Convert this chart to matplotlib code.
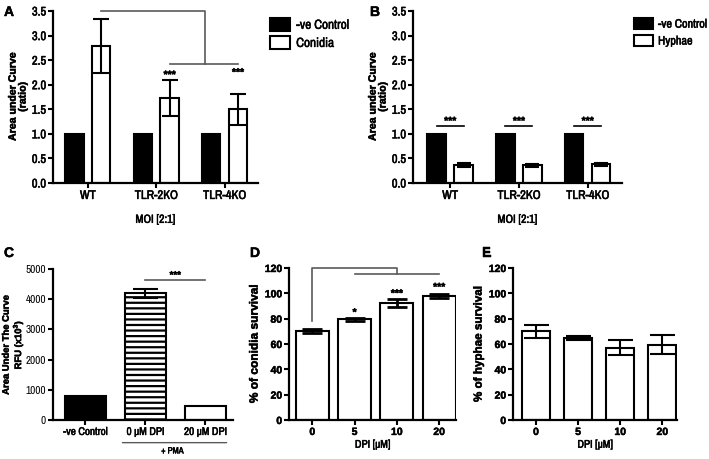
import matplotlib
matplotlib.use("Agg")
import matplotlib.pyplot as plt
import matplotlib.patheffects as pe
import matplotlib.text as mtext
import numpy as np

NARROW = ['Liberation Sans Narrow', 'Archivo Narrow', 'Liberation Sans', 'DejaVu Sans']
WIDE = ['Liberation Sans', 'DejaVu Sans']
plt.rcParams['font.family'] = NARROW
plt.rcParams['mathtext.fontset'] = 'custom'
plt.rcParams['mathtext.rm'] = 'Liberation Sans'
plt.rcParams['mathtext.bf'] = 'Liberation Sans:bold'
plt.rcParams['hatch.linewidth'] = 1.6

# ---- data ----
groups_ab = ["WT", "TLR-2KO", "TLR-4KO"]
a_control = [1.0, 1.0, 1.0]
a_conidia = [2.78, 1.73, 1.50]
a_conidia_err = [0.55, 0.36, 0.32]
b_control = [1.0, 1.0, 1.0]
b_hyphae = [0.36, 0.36, 0.38]
b_hyphae_err = [0.04, 0.03, 0.03]

c_labels = ["-ve Control", "0 μM DPI", "20 μM DPI"]
c_values = [780, 4200, 480]
c_err = [30, 150, 0]

dpi_labels = ["0", "5", "10", "20"]
d_values = [70.0, 79.5, 92.5, 98.0]
d_err = [1.5, 1.0, 3.0, 1.5]
e_values = [70.0, 64.5, 57.0, 59.5]
e_err = [5.0, 1.5, 6.0, 7.5]

fig = plt.figure(figsize=(7.09, 4.59), dpi=100)
W, H = 709, 459


def add_ax(l, r, t, b):
    return fig.add_axes([l / W, 1 - b / H, (r - l) / W, (b - t) / H])


def style(ax, bold_ticks=False, fs=8.5):
    for s in ["top", "right"]:
        ax.spines[s].set_visible(False)
    for s in ["left", "bottom"]:
        ax.spines[s].set_linewidth(1.6)
    ax.tick_params(width=1.5, length=3.5, labelsize=fs, pad=1.5, colors='black')
    if bold_ticks:
        for lab in ax.get_xticklabels() + ax.get_yticklabels():
            lab.set_family(WIDE)
            lab.set_fontweight('bold')


GRAY = '#5a5a5a'
ekw = dict(ecolor='black', elinewidth=1.5, capthick=1.5)


def legkw(fs):
    return dict(loc='upper left', bbox_to_anchor=(1.035, 0.99), frameon=False, fontsize=fs,
                handlelength=1.5, handleheight=1.1, handletextpad=0.45, labelspacing=0.4, borderaxespad=0)


star = dict(ha='center', va='bottom', fontsize=7.5, fontweight='bold', family=WIDE)


def ylab(ax, text, fs, **kw):
    ax.set_ylabel(text, linespacing=1.0, **kw)
    ax.yaxis.label.set_family(WIDE)
    ax.yaxis.label.set_fontweight('bold')
    ax.yaxis.label.set_fontsize(fs)


# ---- Panel A ----
axA = add_ax(53, 258, 11, 183)
x = np.arange(len(groups_ab))
off, w = 0.196, 0.27
axA.bar(x - off, a_control, w, color='black', edgecolor='black', lw=1.5, label='-ve Control')
axA.bar(x + off, a_conidia, w, color='white', edgecolor='black', lw=1.5, label='Conidia',
        yerr=a_conidia_err, capsize=6, error_kw=ekw)
axA.set_xlim(-0.51, 2.49)
axA.set_ylim(0, 3.5)
axA.set_yticks(np.arange(0, 3.51, 0.5))
axA.set_yticklabels([f"{v:.1f}" for v in np.arange(0, 3.51, 0.5)])
axA.set_xticks(x)
axA.set_xticklabels(groups_ab)
style(axA, fs=9)
ylab(axA, "Area under Curve\n(ratio)", 7.6, labelpad=3)
axA.set_xlabel("MOI [2:1]", fontsize=8.5, labelpad=10)
axA.plot([off, 1.72, 1.72], [3.49, 3.49, 2.42], color=GRAY, lw=1.2, clip_on=False)
axA.plot([1 + off, 2 + off], [2.42, 2.42], color=GRAY, lw=1.2, clip_on=False)
axA.text(1 + off, 2.10, "***", **star)
axA.text(2 + off, 2.15, "***", **star)
axA.legend(**legkw(9.5))

# ---- Panel B ----
axB = add_ax(413, 622, 11, 183)
axB.bar(x - off, b_control, w, color='black', edgecolor='black', lw=1.5, label='-ve Control')
axB.bar(x + off, b_hyphae, w, color='white', edgecolor='black', lw=1.5, label='Hyphae',
        yerr=b_hyphae_err, capsize=5, error_kw=ekw)
axB.set_xlim(-0.54, 2.50)
axB.set_ylim(0, 3.5)
axB.set_yticks(np.arange(0, 3.51, 0.5))
axB.set_yticklabels([f"{v:.1f}" for v in np.arange(0, 3.51, 0.5)])
axB.set_xticks(x)
axB.set_xticklabels(groups_ab)
style(axB, fs=9)
ylab(axB, "Area under Curve\n(ratio)", 7.6, labelpad=3)
axB.set_xlabel("MOI [2:1]", fontsize=8.5, labelpad=10)
for gi in x:
    axB.plot([gi - off, gi + off], [1.155, 1.155], color='black', lw=1.2)
    axB.text(gi, 1.16, "***", **star)
axB.legend(**legkw(8.8))

# ---- Panel C ----
axC = add_ax(53, 233, 269, 420)
xc = np.arange(len(c_labels))
wc = 0.69
axC.bar(xc[0], c_values[0], wc, color='black', edgecolor='black', lw=1.5,
        yerr=c_err[0], capsize=0, error_kw=ekw)
axC.bar(xc[1], c_values[1], wc, color='white', edgecolor='black', lw=1.5, hatch='---',
        yerr=c_err[1], capsize=9, error_kw=ekw)
axC.bar(xc[2], c_values[2], wc, color='white', edgecolor='black', lw=1.5)
axC.set_xlim(-0.54, 2.46)
axC.set_ylim(0, 5000)
axC.set_yticks(np.arange(0, 5001, 1000))
axC.set_xticks(xc)
axC.set_xticklabels(c_labels)
style(axC, fs=8)
ylab(axC, "Area Under The Curve\nRFU (x10$^\\mathbf{3}$)", 6.8)
axC.yaxis.set_label_coords(-0.15, 0.5)
axC.plot([1, 2], [4624, 4624], color=GRAY, lw=1.2, clip_on=False)
axC.text(1.5, 4640, "***", **{**star, 'fontsize': 7})
axC.annotate("", xy=(0.57, -0.15), xytext=(2.4, -0.15), xycoords=('data', 'axes fraction'),
             arrowprops=dict(arrowstyle='-', color=GRAY, lw=1.0))
axC.text(1.45, -0.175, "+ PMA", transform=axC.get_xaxis_transform(), ha='center', va='top', fontsize=6.5)

# ---- Panel D ----
axD = add_ax(289, 456, 268, 420)
xd = np.arange(len(dpi_labels))
axD.bar(xd, d_values, 0.78, color='white', edgecolor='black', lw=1.5,
        yerr=d_err, capsize=7, error_kw=dict(ecolor='black', elinewidth=2, capthick=2))
axD.set_xlim(-0.55, 3.4)
axD.set_ylim(0, 120)
axD.set_yticks(np.arange(0, 121, 20))
axD.set_xticks(xd)
axD.set_xticklabels(dpi_labels)
style(axD, bold_ticks=True, fs=7.5)
ylab(axD, "% of conidia survival", 8.6, labelpad=3)
axD.set_xlabel("DPI [μM]", fontsize=8, labelpad=2)
axD.plot([0, 0, 2, 2], [78, 120, 120, 115.5], color=GRAY, lw=1.2, clip_on=False)
axD.plot([1, 3], [115.5, 115.5], color=GRAY, lw=1.2, clip_on=False)
axD.text(1, 81, "*", **star)
axD.text(2, 96, "***", **star)
axD.text(3, 101, "***", **star)

# ---- Panel E ----
axE = add_ax(513, 677, 268, 420)
axE.bar(xd, e_values, 0.66, color='white', edgecolor='black', lw=1.5,
        yerr=e_err, capsize=9, error_kw=ekw)
axE.set_xlim(-0.545, 3.35)
axE.set_ylim(0, 120)
axE.set_yticks(np.arange(0, 121, 20))
axE.set_xticks(xd)
axE.set_xticklabels(dpi_labels)
style(axE, bold_ticks=True, fs=7.5)
ylab(axE, "% of hyphae survival", 8.4, labelpad=3)
axE.set_xlabel("DPI [μM]", fontsize=8, labelpad=2)

# panel letters
for letter, px, py in [("A", 4, 12), ("B", 370, 12), ("C", 4, 253), ("D", 250, 253), ("E", 482, 253)]:
    fig.text(px / W, 1 - py / H, letter, fontsize=10, fontweight='bold', ha='left', va='center',
             family=WIDE)

# thicken text slightly to match the heavy rendering of the reference
for t in fig.findobj(mtext.Text):
    if t.get_text():
        t.set_path_effects([pe.withStroke(linewidth=0.35, foreground='black')])

fig.savefig("out.png", dpi=100)
